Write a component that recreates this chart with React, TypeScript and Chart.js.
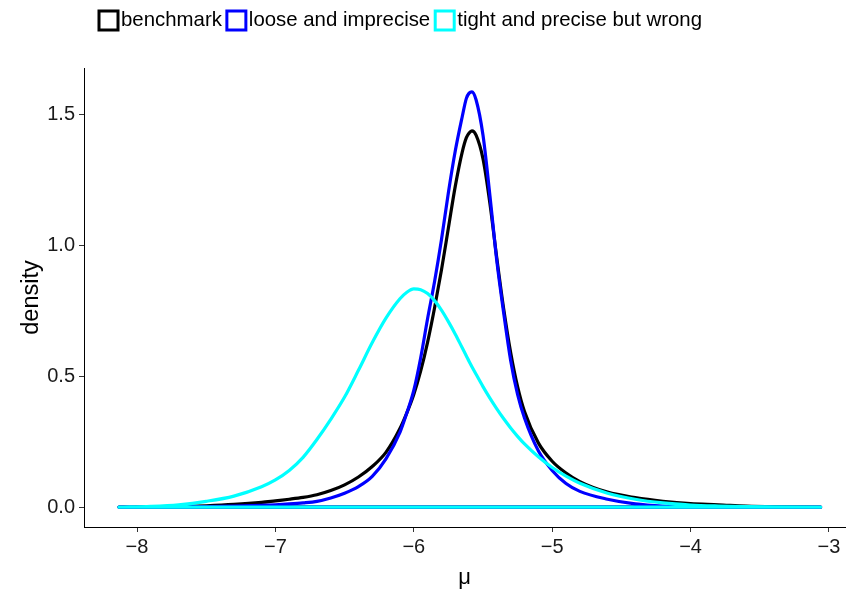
import React, { useEffect, useRef } from 'react';
import { Chart, registerables } from 'chart.js';

Chart.register(...registerables);

// x grid (μ) shared by the three density curves
const mu = [
  -8.13, -7.9, -7.7, -7.5, -7.3, -7.1, -7.0, -6.9, -6.8, -6.7, -6.6, -6.5, -6.4, -6.3, -6.2, -6.1, -6.05, -6.0,
  -5.95, -5.9, -5.85, -5.8, -5.75, -5.7, -5.65, -5.62, -5.6, -5.58, -5.55, -5.5, -5.45, -5.4, -5.35,
  -5.3, -5.25, -5.2, -5.1, -5.0, -4.9, -4.8, -4.6, -4.4, -4.2, -4.0, -3.8, -3.6, -3.4, -3.06,
];

const benchmark = [
  0, 0.001, 0.002, 0.005, 0.01, 0.018, 0.024, 0.03, 0.037, 0.047, 0.063, 0.085, 0.115, 0.155, 0.21, 0.3, 0.36, 0.43,
  0.52, 0.63, 0.76, 0.905, 1.065, 1.225, 1.355, 1.41, 1.428, 1.436, 1.42, 1.33, 1.16, 0.95, 0.755,
  0.59, 0.46, 0.365, 0.245, 0.175, 0.13, 0.097, 0.057, 0.036, 0.022, 0.013, 0.009, 0.004, 0.0015, 0,
];

const loose = [
  0, 0, 0.001, 0.002, 0.004, 0.007, 0.009, 0.012, 0.016, 0.022, 0.035, 0.053, 0.078, 0.117, 0.185, 0.285, 0.36, 0.445,
  0.57, 0.72, 0.86, 1.02, 1.2, 1.36, 1.49, 1.56, 1.58, 1.585, 1.555, 1.42, 1.19, 0.94, 0.74,
  0.56, 0.43, 0.34, 0.215, 0.14, 0.09, 0.06, 0.03, 0.012, 0.004, 0.002, 0.001, 0, 0, 0,
];

const tight = [
  0, 0.003, 0.009, 0.022, 0.042, 0.078, 0.104, 0.14, 0.19, 0.258, 0.335, 0.42, 0.522, 0.628, 0.722, 0.795, 0.82, 0.833,
  0.83, 0.815, 0.788, 0.752, 0.708, 0.66, 0.608, 0.577, 0.556, 0.536, 0.507, 0.46, 0.416, 0.375, 0.337,
  0.302, 0.27, 0.241, 0.192, 0.151, 0.118, 0.091, 0.053, 0.03, 0.016, 0.008, 0.004, 0.0015, 0.0005, 0,
];

const seriesNames = ['benchmark', 'loose and imprecise', 'tight and precise but wrong'];
const seriesColors = ['#000000', '#0000FF', '#00FFFF'];
const seriesValues = [benchmark, loose, tight];

const xTicks = [-8, -7, -6, -5, -4, -3];
const yTicks = [0, 0.5, 1.0, 1.5];

const FONT = '"Liberation Sans", Arial, Helvetica, sans-serif';

const legendPlugin = {
  id: 'topLegend',
  afterDraw(chart: any) {
    const ctx = chart.ctx as CanvasRenderingContext2D;
    ctx.save();
    ctx.font = `20.4px ${FONT}`;
    ctx.textBaseline = 'middle';
    ctx.textAlign = 'left';
    const box = 19;
    const cy = 20.5;
    let x = 99;
    seriesNames.forEach((name, i) => {
      ctx.fillStyle = '#ffffff';
      ctx.fillRect(x, cy - box / 2, box, box);
      ctx.lineWidth = 3;
      ctx.strokeStyle = seriesColors[i];
      ctx.strokeRect(x, cy - box / 2, box, box);
      x += box + 3;
      ctx.fillStyle = '#000000';
      ctx.fillText(name, x, cy);
      x += ctx.measureText(name).width + 5;
    });
    ctx.restore();
  },
};

const fmtX = (v: number) => (v < 0 ? '\u2212' + Math.abs(v) : String(v));

export default function App() {
  const ref = useRef<HTMLCanvasElement | null>(null);

  useEffect(() => {
    if (!ref.current) return;
    const datasets = seriesValues.map((vals, s) => {
      const pts = mu.map((x, i) => ({ x, y: vals[i] }));
      // close the density outline along the baseline, like a density polygon
      pts.push({ x: mu[0], y: 0 });
      return {
        label: seriesNames[s],
        data: pts,
        borderColor: seriesColors[s],
        backgroundColor: 'rgba(0,0,0,0)',
        borderWidth: 3.2,
        pointRadius: 0,
        pointHoverRadius: 0,
        fill: false,
        cubicInterpolationMode: 'monotone' as const,
        borderJoinStyle: 'round' as const,
        borderCapStyle: 'round' as const,
        order: seriesValues.length - s,
      };
    });

    const chart = new Chart(ref.current, {
      type: 'line',
      data: { datasets },
      plugins: [legendPlugin],
      options: {
        animation: false,
        responsive: false,
        devicePixelRatio: 1,
        parsing: false as any,
        layout: { padding: { top: 68, right: 1, left: 0, bottom: 0 } },
        plugins: { legend: { display: false }, tooltip: { enabled: false } },
        scales: {
          x: {
            type: 'linear',
            min: -8.383,
            max: -2.884,
            afterBuildTicks: (s: any) => {
              s.ticks = xTicks.map((v) => ({ value: v }));
            },
            afterFit: (s: any) => {
              s.height = 67;
            },
            ticks: {
              font: { family: FONT, size: 20 },
              color: '#1a1a1a',
              padding: 3,
              maxRotation: 0,
              autoSkip: false,
              callback: (v: any) => fmtX(Number(v)),
            },
            grid: {
              display: true,
              drawOnChartArea: false,
              drawTicks: true,
              tickLength: 5,
              tickWidth: 1,
              color: '#333333',
            },
            border: { display: true, color: '#000000', width: 1 },
            title: {
              display: true,
              text: 'μ',
              font: { family: FONT, size: 22 },
              color: '#000000',
              padding: { top: 0, bottom: 3 },
            },
          },
          y: {
            type: 'linear',
            min: -0.076,
            max: 1.676,
            afterBuildTicks: (s: any) => {
              s.ticks = yTicks.map((v) => ({ value: v }));
            },
            afterFit: (s: any) => {
              s.width = 84;
            },
            ticks: {
              font: { family: FONT, size: 20 },
              color: '#1a1a1a',
              padding: 4,
              callback: (v: any) => Number(v).toFixed(1),
            },
            grid: {
              display: true,
              drawOnChartArea: false,
              drawTicks: true,
              tickLength: 5,
              tickWidth: 1,
              color: '#333333',
            },
            border: { display: true, color: '#000000', width: 1 },
            title: {
              display: true,
              text: 'density',
              font: { family: FONT, size: 23.5 },
              color: '#000000',
              padding: { top: 17, bottom: 0 },
            },
          },
        },
      },
    });
    return () => chart.destroy();
  }, []);

  return (
    <div style={{ position: 'fixed', left: 0, top: 0, width: 846, height: 594, background: '#fff' }}>
      <canvas ref={ref} width={846} height={594} style={{ display: 'block', width: 846, height: 594 }} />
    </div>
  );
}
